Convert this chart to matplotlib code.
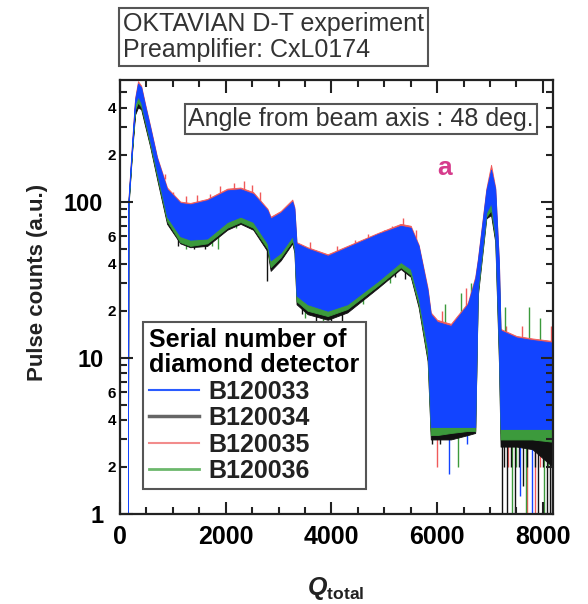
import numpy as np
import matplotlib
matplotlib.use("Agg")
import matplotlib.pyplot as plt
from matplotlib.lines import Line2D
from matplotlib.ticker import FixedLocator, FixedFormatter, FuncFormatter

plt.rcParams['font.family'] = ['Liberation Sans', 'DejaVu Sans']
plt.rcParams['font.weight'] = 'bold'
plt.rcParams['mathtext.fontset'] = 'custom'
plt.rcParams['mathtext.rm'] = 'Liberation Sans'
plt.rcParams['mathtext.it'] = 'Liberation Sans:italic'
plt.rcParams['mathtext.bf'] = 'Liberation Sans:bold'
plt.rcParams['mathtext.bfit'] = 'Liberation Sans:bold:italic'

# --- data (band envelopes of each detector) ---
q = [150, 158, 230, 285, 340, 400, 470, 570, 700, 890,
     1140, 1330, 1650, 2030, 2280, 2520, 2790, 2850, 3040, 3260,
     3300, 3340, 3550, 3930, 4300, 4880, 5310, 5500, 5650, 5820,
     5880, 6000, 6260, 6580, 6720, 6770, 6930, 7020, 7100, 7170,
     7200, 7500, 7800, 8192]

blue_hi = [0.8, 100, 240, 450, 570, 540, 420, 300, 190, 120,
           98, 96, 102, 118, 120, 112, 88, 78, 85, 100,
           90, 54, 50, 45, 51, 62, 70, 68, 52, 27,
           19, 17, 16, 22, 32, 42, 118, 160, 120, 40,
           15, 13.5, 13, 12.5]
blue_lo = [0.8, 95, 225, 420, 470, 430, 340, 245, 155, 80,
           60, 57, 58, 74, 80, 74, 54, 42, 47, 60,
           52, 25, 22, 20, 22, 31, 41, 37, 24, 11.5,
           3.6, 3.6, 3.6, 3.6, 3.6, 28, 85, 98, 62, 11,
           3.5, 3.5, 3.5, 3.5]

black_hi = [0.8, 95, 220, 380, 430, 420, 350, 260, 165, 100,
            80, 78, 82, 96, 100, 92, 72, 62, 70, 86,
            78, 44, 40, 37, 42, 52, 58, 56, 42, 20,
            15, 13, 12.5, 17, 26, 36, 100, 125, 95, 30,
            12, 11, 10.5, 10]
black_lo = [0.8, 90, 210, 360, 400, 390, 310, 225, 140, 72,
            54, 51, 52, 66, 72, 66, 48, 36, 42, 54,
            47, 22, 19, 17.5, 19.5, 28, 37, 33, 21, 9.5,
            3.0, 3.0, 3.0, 3.2, 3.3, 25, 78, 82, 55, 9,
            2.7, 2.7, 2.6, 2.0]

red_hi = [0.8, 102, 246, 460, 590, 552, 430, 306, 194, 123,
          100, 98, 104, 121, 123, 115, 90, 80, 87, 103,
          92, 55, 51, 46, 52, 63, 72, 70, 53, 28,
          19.5, 17.5, 16.5, 22.5, 33, 43, 121, 172, 123, 41,
          15.3, 13.8, 13.3, 12.8]
red_lo = [0.8, 96, 228, 425, 480, 440, 345, 250, 158, 82,
          62, 59, 60, 76, 82, 76, 56, 44, 49, 62,
          54, 26, 23, 21, 23, 32, 42, 38, 25, 12,
          3.4, 3.4, 3.4, 3.4, 3.4, 29, 87, 100, 64, 12,
          3.3, 3.3, 3.3, 3.3]

green_hi = [0.8, 97, 228, 400, 470, 450, 370, 270, 172, 106,
            86, 84, 88, 102, 106, 98, 76, 66, 74, 90,
            82, 47, 43, 40, 45, 55, 62, 60, 45, 22,
            17, 15, 14, 20, 29, 39, 108, 140, 105, 34,
            14, 13, 12.5, 12]
green_lo = [0.8, 92, 215, 390, 430, 405, 325, 232, 146, 75,
            55, 52, 54, 68, 74, 68, 50, 38, 44, 56,
            49, 23, 20, 18.5, 20.5, 29, 38, 34, 22, 10,
            3.2, 3.2, 3.3, 3.4, 3.4, 26, 80, 88, 58, 10,
            3.0, 3.0, 3.0, 2.9]

# single channels sticking out of the bands
red_spk_q = [850, 1000, 1250, 1450, 1700, 1900, 2150, 2350, 2500, 2650,
             3150, 3600, 4100, 4450, 4700, 5000, 5150, 5350, 5600, 6100,
             6550, 7300, 7600, 8150, 6000, 7350, 7700, 7850, 7950]
red_spk_lo = [150, 90, 80, 80, 90, 90, 100, 100, 100, 70,
              70, 35, 35, 40, 40, 45, 50, 55, 40, 8,
              10, 6, 6, 6, 2.0, 2.0, 1.0, 1.0, 2.0]
red_spk_hi = [140, 115, 108, 110, 112, 125, 132, 135, 128, 115,
              86, 55, 52, 57, 62, 66, 70, 78, 66, 20,
              28, 16, 16, 16, 5, 5, 5, 5, 5]
green_spk_q = [1250, 1750, 1860, 2200, 3500, 3850, 4600, 5100,
               6150, 6450, 6650, 7280, 7740, 7950, 6400, 7420, 7500, 7680, 8020, 8100]
green_spk_lo = [50, 52, 50, 68, 18, 16, 22, 30,
                5, 5, 5, 5, 5, 5, 2.0, 1.0, 2.0, 1.0, 1.0, 2.0]
green_spk_hi = [75, 75, 80, 90, 35, 30, 35, 50,
                22, 26, 30, 21, 21, 18, 5, 5, 5, 5, 5, 5]
black_spk_q = [1100, 1400, 1600, 2600, 2790, 3450, 3700, 4000, 4200, 5200, 5400,
               5900, 6050, 7220, 7260, 7330, 7400, 7480, 7550, 7620, 7700,
               7850, 7900, 8000, 8080, 8130, 8170]
black_spk_lo = [52, 50, 50, 62, 31, 19, 17, 16, 17, 33, 32,
                2.8, 2.8, 1, 2, 1, 2, 1, 2, 1.5, 2,
                2, 1, 2, 1, 1, 1]
black_spk_hi = [80, 75, 75, 90, 60, 35, 35, 30, 30, 50, 50,
                5, 5, 5, 5, 5, 5, 5, 5, 5, 5,
                5, 5, 5, 5, 5, 5]
blue_spk_q = [6220, 6570, 7560, 7800]
blue_spk_lo = [1.8, 2.8, 1.3, 1.0]
blue_spk_hi = [5, 5, 5, 5]

names = ['B120033', 'B120034', 'B120035', 'B120036']
c_blue, c_black, c_red, c_green = '#1244ff', '#111111', '#f05a5a', '#3c9a3c'

fig = plt.figure(figsize=(5.88, 6.04), dpi=100)
ax = fig.add_axes([120 / 588, 1 - 514 / 604, 433 / 588, 434 / 604])

# spikes sit behind every band, so only the parts poking out are seen
ax.vlines(red_spk_q, red_spk_lo, red_spk_hi, color=c_red, lw=1, zorder=0.9)
ax.vlines(green_spk_q, green_spk_lo, green_spk_hi, color=c_green, lw=1, zorder=0.9)
ax.vlines(black_spk_q, black_spk_lo, black_spk_hi, color=c_black, lw=1, zorder=0.9)
ax.vlines(blue_spk_q, blue_spk_lo, blue_spk_hi, color=c_blue, lw=1, zorder=0.95)
ax.fill_between(q, red_lo, red_hi, color=c_red, ec=c_red, lw=0.6, zorder=1)
ax.fill_between(q, black_lo, black_hi, color=c_black, ec=c_black, lw=0.6, zorder=1.01)
ax.fill_between(q, green_lo, green_hi, color=c_green, ec=c_green, lw=0.6, zorder=1.02)
ax.fill_between(q, blue_lo, blue_hi, color=c_blue, ec=c_blue, lw=0.6, zorder=1.03)

ax.set_yscale('log')
ax.set_xlim(0, 8192)
ax.set_ylim(1, 600)

ax.xaxis.set_major_locator(FixedLocator([0, 2000, 4000, 6000, 8000]))
ax.xaxis.set_minor_locator(FixedLocator(np.arange(500, 8192, 500)))
ax.yaxis.set_major_locator(FixedLocator([1, 10, 100]))
ax.yaxis.set_major_formatter(FixedFormatter(['1', '10', '100']))
minors = [m * d for d in (1, 10, 100) for m in range(2, 10) if m * d < 600]
ax.yaxis.set_minor_locator(FixedLocator(minors))


def minor_fmt(v, pos):
    m = int(round(v / 10 ** np.floor(np.log10(v) + 1e-9)))
    return str(m) if m in (2, 4, 6) else ''


ax.yaxis.set_minor_formatter(FuncFormatter(minor_fmt))

ax.tick_params(which='both', direction='in', top=True, right=True, width=1.5, color='#222')
ax.tick_params(axis='y', which='major', length=9, pad=12, labelsize=17)
ax.tick_params(axis='y', which='minor', length=5, pad=3, labelsize=11)
ax.tick_params(axis='x', which='major', length=9, pad=8, labelsize=18)
ax.tick_params(axis='x', which='minor', length=5)
for s in ax.spines.values():
    s.set_linewidth(1.6)
    s.set_color('#222')

fig.text(38 / 588, 1 - 282 / 604, 'Pulse counts (a.u.)', rotation=90,
         ha='center', va='center', fontsize=16, color='#222')
fig.text(336 / 588, 1 - 588 / 604, r'$\mathbfit{Q}_{\mathbf{total}}$',
         ha='center', va='center', fontsize=18, color='#222')

fig.text(123 / 588, 1 - 37 / 604, 'OKTAVIAN D-T experiment\nPreamplifier: CxL0174',
         ha='left', va='center', fontsize=18, weight='normal', color='#333',
         linespacing=1.1,
         bbox=dict(boxstyle='square,pad=0.15', fc='white', ec='#555', lw=1.5))
ax.text(0.557, 0.909, 'Angle from beam axis : 48 deg.', transform=ax.transAxes,
        ha='center', va='center', fontsize=18, weight='normal', color='#333',
        bbox=dict(boxstyle='square,pad=0.12', fc='white', ec='#555', lw=1.5))
ax.text(0.75, 0.797, 'a', transform=ax.transAxes, ha='center', va='center',
        fontsize=19, color='#d63c8c')

handles = [Line2D([], [], color='#2a5cff', lw=1.5),
           Line2D([], [], color='#666666', lw=2.5),
           Line2D([], [], color='#f28c8c', lw=1.5),
           Line2D([], [], color='#6cb86c', lw=2)]
leg = ax.legend(handles, names, title='Serial number of\ndiamond detector',
                loc='upper left', bbox_to_anchor=(143 / 588, 1 - 322 / 604),
                bbox_transform=fig.transFigure, fontsize=18, title_fontsize=18,
                alignment='left', fancybox=False, framealpha=1, edgecolor='#555',
                borderpad=0.25, handlelength=2.0, handletextpad=0.35,
                labelspacing=0.1, borderaxespad=0)
leg.get_frame().set_linewidth(1.5)
leg.get_title().set_linespacing(1.05)
for t in leg.get_texts():
    t.set_color('#222')

fig.savefig('out.png', dpi=100)
